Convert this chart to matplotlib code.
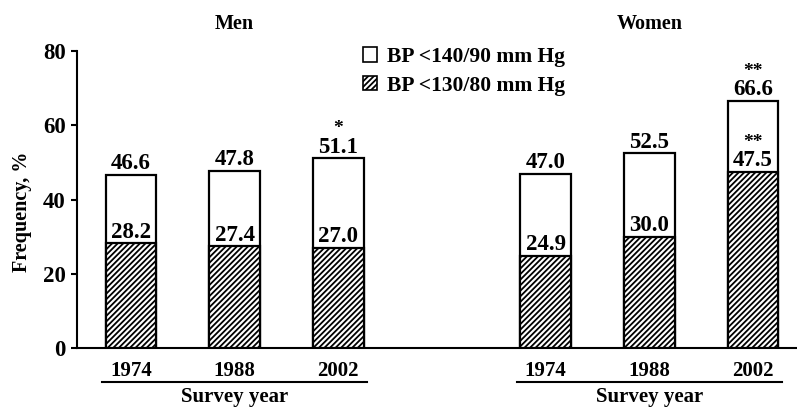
import matplotlib
matplotlib.use("Agg")
import matplotlib.pyplot as plt
from matplotlib.patches import Patch
import matplotlib.transforms as mtransforms

plt.rcParams['font.family'] = ['Liberation Serif', 'DejaVu Serif']
plt.rcParams['font.weight'] = 'bold'
plt.rcParams['axes.labelweight'] = 'bold'
plt.rcParams['hatch.linewidth'] = 1.3

groups = ["Men", "Women"]
years = ["1974", "1988", "2002"]
bp140_men = [46.6, 47.8, 51.1]
bp130_men = [28.2, 27.4, 27.0]
bp140_women = [47.0, 52.5, 66.6]
bp130_women = [24.9, 30.0, 47.5]
sig140_men = ["", "", "*"]
sig130_men = ["", "", ""]
sig140_women = ["", "", "**"]
sig130_women = ["", "", "**"]
legend_labels = ["BP <140/90 mm Hg", "BP <130/80 mm Hg"]

fig = plt.figure(figsize=(7.97, 4.08), dpi=100)
ax = fig.add_axes([0.0966, 0.147, 0.9034, 0.728])

pos_sets = [[0, 1, 2], [4, 5, 6]]
data = [(bp140_men, bp130_men, sig140_men, sig130_men),
        (bp140_women, bp130_women, sig140_women, sig130_women)]
width = 0.49

for pos, (v140, v130, s140, s130) in zip(pos_sets, data):
    ax.bar(pos, v140, width=width, color='white', edgecolor='black', linewidth=1.6, zorder=2)
    ax.bar(pos, v130, width=width, color='white', edgecolor='black', hatch='//////',
           linewidth=1.6, zorder=3)
    for x, a, b, sa, sb in zip(pos, v140, v130, s140, s130):
        ax.annotate(f"{a:.1f}", (x, a), xytext=(0, 4), textcoords='offset points',
                    ha='center', va='baseline', fontsize=16.5, zorder=5)
        ax.annotate(f"{b:.1f}", (x, b), xytext=(0, 4), textcoords='offset points',
                    ha='center', va='baseline', fontsize=16.5, zorder=5)
        if sa:
            ax.annotate(sa, (x, a), xytext=(0, 18), textcoords='offset points',
                        ha='center', va='baseline', fontsize=14, zorder=5)
        if sb:
            ax.annotate(sb, (x, b), xytext=(0, 18), textcoords='offset points',
                        ha='center', va='baseline', fontsize=14, zorder=5)

ax.set_ylim(0, 80)
ax.set_xlim(-0.521, 6.424)
ax.set_yticks([0, 20, 40, 60, 80])
ax.tick_params(axis='y', labelsize=16.5, length=4, width=1.5, direction='out', pad=4)
ax.set_xticks(pos_sets[0] + pos_sets[1], years + years)
ax.tick_params(axis='x', labelsize=15, length=0, pad=9)
for side in ['top', 'right']:
    ax.spines[side].set_visible(False)
ax.spines['left'].set_linewidth(1.5)
ax.spines['bottom'].set_linewidth(1.5)

ax.set_ylabel("Frequency, %", fontsize=14.5, fontweight='bold')
ax.yaxis.set_label_coords(-0.063, 0.46)

trans = mtransforms.blended_transform_factory(ax.transData, ax.transAxes)
for pos, g in zip(pos_sets, groups):
    ax.plot([pos[0] - 0.28, pos[-1] + 0.28], [-0.1145, -0.1145], color='black', lw=1.5,
            transform=trans, clip_on=False)
    mid = (pos[0] + pos[-1]) / 2
    ax.text(mid, -0.165, "Survey year", transform=trans, ha='center', va='center', fontsize=15)
    ax.text(mid, 1.09, g, transform=trans, ha='center', va='center', fontsize=14.5)

handles = [Patch(facecolor='white', edgecolor='black', linewidth=1.2),
           Patch(facecolor='white', edgecolor='black', hatch='//////', linewidth=1.2)]
leg = fig.legend(handles, legend_labels, loc='upper left', bbox_to_anchor=(0.456, 0.885),
                 frameon=False, fontsize=15.5, handlelength=0.65, handleheight=0.65,
                 handletextpad=0.45, labelspacing=0.4, borderpad=0, borderaxespad=0)

fig.savefig("out.png", dpi=100)
